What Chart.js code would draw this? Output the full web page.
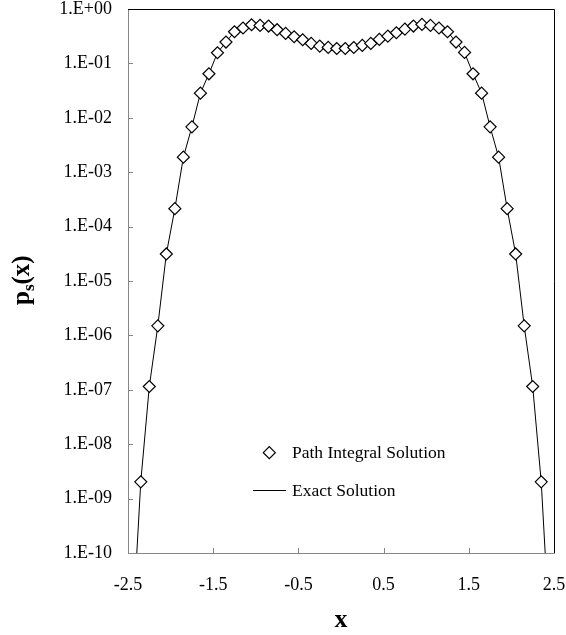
<!DOCTYPE html>
<html>
<head>
<meta charset="utf-8">
<script src="https://cdn.jsdelivr.net/npm/chart.js@4.4.1/dist/chart.umd.min.js"></script>
<style>
html,body{margin:0;padding:0;background:#ffffff;}
canvas{display:block;}
</style>
</head>
<body>
<canvas id="c" width="566" height="635"></canvas>
<script>
// ---- data ----
const pathX = [-2.35,-2.25,-2.15,-2.05,-1.95,-1.85,-1.75,-1.65,-1.55,-1.45,-1.35,-1.25,-1.15,-1.05,-0.95,-0.85,-0.75,-0.65,-0.55,-0.45,-0.35,-0.25,-0.15,-0.05,
               0.05,0.15,0.25,0.35,0.45,0.55,0.65,0.75,0.85,0.95,1.05,1.15,1.25,1.35,1.45,1.55,1.65,1.75,1.85,1.95,2.05,2.15,2.25,2.35];
const pathY = [2.03e-9,1.15e-7,1.50e-6,3.14e-5,2.14e-4,1.89e-3,6.82e-3,2.84e-2,6.44e-2,0.157,0.247,0.382,0.447,0.514,0.499,0.486,0.416,0.356,0.309,0.272,0.233,0.208,0.197,0.188,
               0.188,0.196,0.214,0.233,0.276,0.318,0.366,0.428,0.486,0.520,0.499,0.447,0.382,0.247,0.159,0.0644,0.0284,6.82e-3,1.89e-3,2.14e-4,3.14e-5,1.50e-6,1.15e-7,2.03e-9];
const exactX = [-2.40,-2.35,-2.25,-2.15,-2.05,-1.95,-1.85,-1.75,-1.65,-1.55,-1.45,-1.35,-1.25,-1.15,-1.05,-0.95,-0.85,-0.75,-0.65,-0.55,-0.45,-0.35,-0.25,-0.15,-0.05,
                0.05,0.15,0.25,0.35,0.45,0.55,0.65,0.75,0.85,0.95,1.05,1.15,1.25,1.35,1.45,1.55,1.65,1.75,1.85,1.95,2.05,2.15,2.25,2.35,2.40];
const exactY = [8.0e-11,2.03e-9,1.15e-7,1.50e-6,3.14e-5,2.14e-4,1.89e-3,6.82e-3,2.84e-2,6.44e-2,0.157,0.247,0.382,0.447,0.507,0.505,0.486,0.420,0.360,0.312,0.274,0.233,0.210,0.196,0.188,
                0.188,0.196,0.210,0.233,0.274,0.312,0.360,0.420,0.486,0.505,0.507,0.447,0.382,0.247,0.157,0.0644,0.0284,6.82e-3,1.89e-3,2.14e-4,3.14e-5,1.50e-6,1.15e-7,2.03e-9,8.0e-11];
const xTicks = [-2.5,-1.5,-0.5,0.5,1.5,2.5];
const xTickLabels = ['-2.5','-1.5','-0.5','0.5','1.5','2.5'];
const yTicks = [1,1e-1,1e-2,1e-3,1e-4,1e-5,1e-6,1e-7,1e-8,1e-9,1e-10];
const yTickLabels = ['1.E+00','1.E-01','1.E-02','1.E-03','1.E-04','1.E-05','1.E-06','1.E-07','1.E-08','1.E-09','1.E-10'];
const seriesNames = ['Path Integral Solution','Exact Solution'];
const xTitle = 'x';
const yTitleParts = ['p','s','(x)'];

const FONT = '"Liberation Serif", "Times New Roman", serif';

function zeroPad(s) { s.paddingTop = 0; s.paddingBottom = 0; s.paddingLeft = 0; s.paddingRight = 0; }

const decorPlugin = {
  id: 'decor',
  beforeDatasetsDraw(chart) {
    const {ctx, chartArea: a, scales} = chart;
    ctx.save();
    ctx.strokeStyle = '#868686';
    ctx.lineWidth = 1;
    ctx.beginPath();
    scales.x.ticks.forEach(t => {
      const px = Math.round(scales.x.getPixelForValue(t.value)) + 0.5;
      if (px > a.left + 2 && px < a.right - 2) { ctx.moveTo(px, a.bottom); ctx.lineTo(px, a.bottom - 5); }
    });
    scales.y.ticks.forEach(t => {
      const py = Math.round(scales.y.getPixelForValue(t.value)) + 0.5;
      if (py > a.top + 2 && py < a.bottom - 2) { ctx.moveTo(a.left, py); ctx.lineTo(a.left + 5, py); }
    });
    ctx.stroke();
    ctx.strokeStyle = '#000000';
    ctx.beginPath();
    const t = Math.round(a.top) + 0.5, r = Math.round(a.right) + 0.5;
    ctx.moveTo(a.left, t); ctx.lineTo(r, t); ctx.lineTo(r, a.bottom);
    ctx.stroke();
    ctx.restore();
  },
  afterDraw(chart) {
    const {ctx, chartArea: a} = chart;
    const ds = chart.data.datasets;
    ctx.save();
    // legend
    ctx.fillStyle = '#000';
    ctx.font = '17.5px ' + FONT;
    ctx.textAlign = 'left';
    ctx.textBaseline = 'alphabetic';
    const dx = 269.3, dy = 452.7, r = 6;
    ctx.beginPath();
    ctx.moveTo(dx - r, dy); ctx.lineTo(dx, dy - r); ctx.lineTo(dx + r, dy); ctx.lineTo(dx, dy + r); ctx.closePath();
    ctx.fillStyle = '#fff'; ctx.fill();
    ctx.strokeStyle = '#000'; ctx.lineWidth = 1.2; ctx.stroke();
    ctx.fillStyle = '#000';
    ctx.fillText(ds[0].label, 292, 457.5);
    ctx.beginPath(); ctx.lineWidth = 1;
    ctx.moveTo(253, 490.5); ctx.lineTo(286, 490.5); ctx.stroke();
    ctx.fillText(ds[1].label, 292, 496);
    // x title
    ctx.font = 'bold 26px ' + FONT;
    ctx.textAlign = 'center';
    ctx.fillText(xTitle, (a.left + a.right) / 2, 627);
    // y title with subscript
    ctx.translate(28.5, 305);
    ctx.rotate(-Math.PI / 2);
    ctx.textAlign = 'left';
    ctx.font = 'bold 25px ' + FONT;
    let x = 0;
    ctx.fillText(yTitleParts[0], x, 0); x += ctx.measureText(yTitleParts[0]).width;
    ctx.font = 'bold 17px ' + FONT;
    ctx.fillText(yTitleParts[1], x, 5); x += ctx.measureText(yTitleParts[1]).width;
    ctx.font = 'bold 25px ' + FONT;
    ctx.fillText(yTitleParts[2], x, 0);
    ctx.restore();
  }
};

new Chart(document.getElementById('c'), {
  type: 'scatter',
  data: {
    datasets: [
      {
        label: seriesNames[0],
        data: pathX.map((x, i) => ({x: x, y: pathY[i]})),
        showLine: false,
        pointStyle: 'rectRot',
        pointRadius: 6,
        pointHoverRadius: 6,
        pointBorderWidth: 1.2,
        borderColor: '#000',
        backgroundColor: '#fff'
      },
      {
        label: seriesNames[1],
        data: exactX.map((x, i) => ({x: x, y: exactY[i]})),
        showLine: true,
        pointRadius: 0,
        pointHoverRadius: 0,
        borderColor: '#000',
        borderWidth: 1,
        tension: 0,
        fill: false
      }
    ]
  },
  options: {
    responsive: false,
    animation: false,
    devicePixelRatio: 1,
    layout: { padding: { left: 0, top: 9, right: 12, bottom: 0 }, autoPadding: false },
    plugins: { legend: { display: false }, tooltip: { enabled: false } },
    scales: {
      x: {
        type: 'linear',
        min: -2.5, max: 2.5,
        afterBuildTicks: s => { s.ticks = xTicks.map(v => ({value: v})); },
        afterFit: s => { s.height = 82; zeroPad(s); },
        ticks: {
          autoSkip: false, maxRotation: 0, color: '#000', padding: 21,
          font: { family: FONT, size: 18 },
          callback: (v) => { const i = xTicks.findIndex(t => Math.abs(t - v) < 1e-9); return i >= 0 ? xTickLabels[i] : ''; }
        },
        grid: { display: true, drawOnChartArea: false, drawTicks: false, color: '#868686' },
        border: { display: true, color: '#868686', width: 1 },
        title: { display: false }
      },
      y: {
        type: 'logarithmic',
        min: 1e-10, max: 1,
        afterBuildTicks: s => { s.ticks = yTicks.map(v => ({value: v, major: true})); },
        afterFit: s => { s.width = 128; zeroPad(s); },
        ticks: {
          autoSkip: false, color: '#000', padding: 16,
          font: { family: FONT, size: 18 },
          callback: (v) => { const i = yTicks.findIndex(t => Math.abs(Math.log10(t) - Math.log10(v)) < 1e-6); return i >= 0 ? yTickLabels[i] : ''; }
        },
        grid: { display: true, drawOnChartArea: false, drawTicks: false, color: '#868686' },
        border: { display: true, color: '#868686', width: 1 },
        title: { display: false }
      }
    }
  },
  plugins: [decorPlugin]
});
</script>
</body>
</html>
